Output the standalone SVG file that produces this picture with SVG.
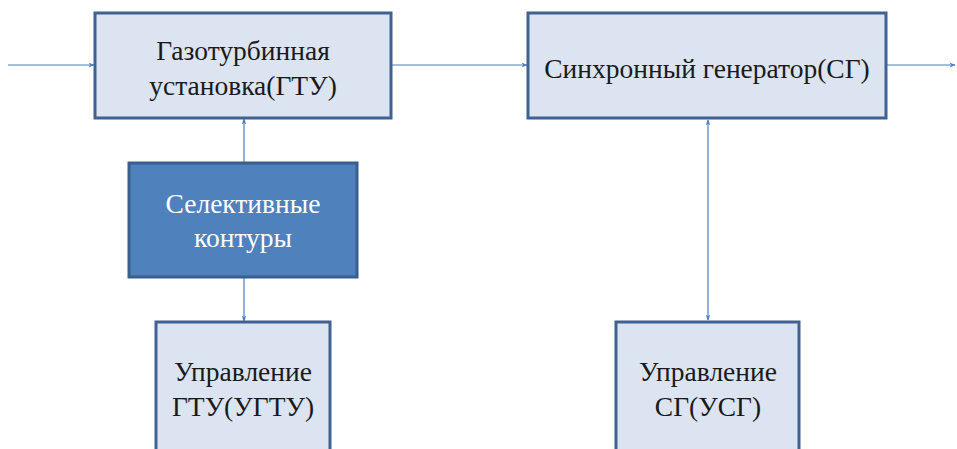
<svg xmlns="http://www.w3.org/2000/svg" width="957" height="449" viewBox="0 0 957 449">
<defs>
<style>
.box{fill:#dbe4f0;stroke:#3f6291;stroke-width:3}
.dark{fill:#4f81bd;stroke:#3a5f8c;stroke-width:3}
.t{font-family:"Liberation Serif","Times New Roman",serif;font-size:27.5px;fill:#1a1a1a;text-anchor:middle}
.w{fill:#ffffff}
.c{stroke:#4a7ebb;stroke-width:1.2;fill:none}
</style>
<marker id="ah" viewBox="0 0 10 10" refX="9" refY="5" markerWidth="6" markerHeight="6" markerUnits="userSpaceOnUse" orient="auto-start-reverse">
<path d="M0,1 L10,5 L0,9 L3,5 Z" fill="#4a7ebb"/>
</marker>
</defs>
<g id="connectors">
<line class="c" x1="8" y1="65" x2="94" y2="65" marker-end="url(#ah)"/>
<line class="c" x1="392" y1="65" x2="527" y2="65" marker-end="url(#ah)"/>
<line class="c" x1="887" y1="65" x2="955" y2="65" marker-end="url(#ah)"/>
<line class="c" x1="244" y1="162" x2="244" y2="119" marker-end="url(#ah)"/>
<line class="c" x1="244" y1="278" x2="244" y2="321" marker-end="url(#ah)"/>
<line class="c" x1="708" y1="120" x2="708" y2="320" marker-start="url(#ah)" marker-end="url(#ah)"/>
</g>
<g id="gtu">
<rect class="box" x="95" y="13" width="296" height="105"/>
<text class="t" x="243" y="60">Газотурбинная</text>
<text class="t" x="243" y="95">установка(ГТУ)</text>
</g>
<g id="sg">
<rect class="box" x="528" y="13" width="358" height="105"/>
<text class="t" x="707" y="78">Синхронный генератор(СГ)</text>
</g>
<g id="selective">
<rect class="dark" x="129" y="163" width="228" height="114"/>
<text class="t w" x="243" y="213">Селективные</text>
<text class="t w" x="243" y="247">контуры</text>
</g>
<g id="ugtu">
<rect class="box" x="156" y="322" width="174" height="140"/>
<text class="t" x="243" y="381">Управление</text>
<text class="t" x="243" y="416">ГТУ(УГТУ)</text>
</g>
<g id="usg">
<rect class="box" x="616" y="322" width="183" height="140"/>
<text class="t" x="708" y="381">Управление</text>
<text class="t" x="708" y="416">СГ(УСГ)</text>
</g>
</svg>
